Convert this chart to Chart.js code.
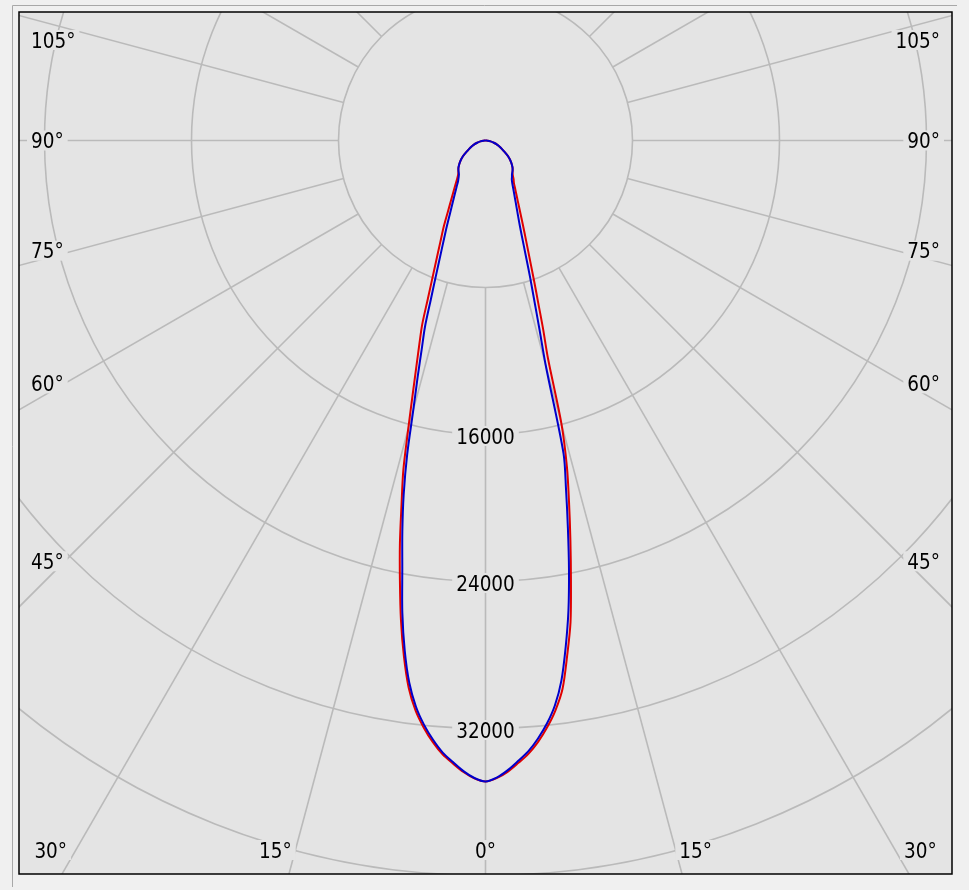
<!DOCTYPE html>
<html>
<head>
<meta charset="utf-8">
<script src="https://cdn.jsdelivr.net/npm/chart.js@4.4.1/dist/chart.umd.min.js"></script>
<style>
  html, body { margin: 0; padding: 0; background: #f0f0f0; }
  canvas { display: block; }
</style>
</head>
<body>
<canvas id="polarChart" width="969" height="890"></canvas>
<script>
// gamma angles (deg from nadir)
const angles = [0, 1, 2, 3, 4, 5, 6, 7, 8, 9, 10, 11, 12, 13, 14, 15, 16, 17, 18, 19, 20, 22, 24, 26, 28, 30, 32, 34, 36, 38, 40, 42, 45, 50, 55, 60, 65, 70, 75, 80, 85, 90];

// intensities (cd), left and right half of each plane
const redLeft = [34885, 34720, 34390, 33950, 33490, 32870, 32130, 31250, 30060, 28400, 26500, 24410, 22400, 20310, 18480, 16240, 14380, 12870, 11645, 10570, 9180, 7290, 6040, 5150, 4330, 3740, 3300, 2950, 2660, 2440, 2300, 2210, 2080, 1810, 1500, 1150, 900, 690, 470, 280, 120, 0];
const redRight = [34885, 34710, 34380, 33930, 33460, 32850, 32110, 31240, 30130, 28400, 26640, 24370, 22220, 20210, 18320, 15990, 12330, 10710, 9275, 8175, 7260, 5920, 4985, 4280, 3750, 3345, 3020, 2760, 2600, 2420, 2290, 2210, 2080, 1810, 1500, 1150, 900, 690, 470, 280, 120, 0];
const blueLeft = [34885, 34700, 34340, 33870, 33390, 32740, 31980, 31050, 29800, 28100, 26070, 23730, 21770, 19800, 17630, 15180, 13400, 11870, 10655, 9120, 7970, 6330, 5245, 4400, 3780, 3320, 2960, 2670, 2490, 2350, 2270, 2200, 2080, 1810, 1500, 1150, 900, 690, 470, 280, 120, 0];
const blueRight = [34885, 34680, 34300, 33820, 33330, 32680, 31920, 30980, 29680, 27900, 25990, 23810, 21570, 19480, 17550, 12660, 10600, 9050, 7890, 6890, 6090, 4975, 4270, 3750, 3340, 3020, 2750, 2560, 2450, 2340, 2270, 2200, 2080, 1810, 1500, 1150, 900, 690, 470, 280, 120, 0];

// grid
const ringValues = [8000, 16000, 24000, 32000, 40000];
const ringLabelValues = [16000, 24000, 32000];
const angleTicks = [0, 15, 30, 45, 60, 75, 90, 105];

const PLOT_BG = '#e4e4e4';
const GRID = '#bababa';
const FONT = '20.5px "DejaVu Sans Condensed", "Liberation Sans", sans-serif';
const PX_PER_CD = 147 / 8000;
const AREA = { left: 19, right: 952, top: 12, bottom: 874 };
const CENTER = { x: 485.5, y: 140.5 };

// polar -> x/y in cd
function polar(deg, val, side) {
    const r = deg * Math.PI / 180;
    return { x: side * val * Math.sin(r), y: -val * Math.cos(r) };
}

function toPoints(left, right) {
    const pts = [];
    for (let i = angles.length - 1; i >= 0; i--) pts.push(polar(angles[i], left[i], -1));
    for (let i = 1; i < angles.length; i++) pts.push(polar(angles[i], right[i], 1));
    return pts;
}

// label with background box, (px, py) = centre
function drawLabel(ctx, text, px, py) {
    const w = ctx.measureText(text).width;
    ctx.fillStyle = PLOT_BG;
    ctx.fillRect(px - w / 2 - 4, py - 10, w + 8, 20);
    ctx.fillStyle = '#000';
    ctx.fillText(text, px, py + 7.5);
}

// grid, labels and frame
const polarGrid = {
    id: 'polarGrid',
    beforeDatasetsDraw(chart) {
        const { ctx, chartArea: a, scales: { x, y } } = chart;
        const cx = x.getPixelForValue(0), cy = y.getPixelForValue(0);
        const rad = v => x.getPixelForValue(v) - cx;

        ctx.save();
        // group box lines
        ctx.strokeStyle = '#a8a8a8';
        ctx.lineWidth = 1;
        ctx.beginPath();
        ctx.moveTo(12.5, 887);
        ctx.lineTo(12.5, 5.5);
        ctx.lineTo(957, 5.5);
        ctx.stroke();

        ctx.fillStyle = PLOT_BG;
        ctx.fillRect(a.left, a.top, a.right - a.left, a.bottom - a.top);
        ctx.beginPath();
        ctx.rect(a.left, a.top, a.right - a.left, a.bottom - a.top);
        ctx.clip();

        ctx.strokeStyle = GRID;
        ctx.lineWidth = 1.6;
        ringValues.forEach(v => {
            ctx.beginPath();
            ctx.arc(cx, cy, rad(v), 0, Math.PI * 2);
            ctx.stroke();
        });
        const rIn = rad(ringValues[0]), rOut = rad(60000);
        for (let d = 0; d < 360; d += 15) {
            const r = d * Math.PI / 180;
            ctx.beginPath();
            ctx.moveTo(cx + rIn * Math.sin(r), cy + rIn * Math.cos(r));
            ctx.lineTo(cx + rOut * Math.sin(r), cy + rOut * Math.cos(r));
            ctx.stroke();
        }

        ctx.font = FONT;
        ctx.textAlign = 'center';
        ctx.textBaseline = 'alphabetic';
        ringLabelValues.forEach(v => drawLabel(ctx, String(v), cx, cy + rad(v) + 1.5));

        // angle labels near the frame, along the spoke
        angleTicks.forEach(t => {
            const text = t + '°';
            const w = ctx.measureText(text).width;
            const sides = t === 0 ? [1] : [-1, 1];
            sides.forEach(side => {
                const phi = (t > 0 && t < 90 ? t + 1.5 : t) * Math.PI / 180;
                const dx = Math.sin(phi), dy = Math.cos(phi);
                const hBound = side < 0 ? cx - (a.left + 12) - w / 2 : (a.right - 12) - w / 2 - cx;
                let k = dx > 0 ? hBound / dx : Infinity;
                let onSide = true;
                if (dy > 0) {
                    const kb = (a.bottom - 24 - cy) / dy;
                    if (kb < k) { k = kb; onSide = false; }
                }
                const px = cx + side * k * dx;
                let py = cy + k * dy;
                if (onSide && t > 0 && t < 90) py += 5;
                py = Math.max(py, a.top + 28);
                drawLabel(ctx, text, px, py);
            });
        });
        ctx.restore();
    },
    afterDraw(chart) {
        const { ctx, chartArea: a } = chart;
        ctx.save();
        ctx.strokeStyle = '#000';
        ctx.lineWidth = 1.5;
        ctx.strokeRect(a.left, a.top, a.right - a.left, a.bottom - a.top);
        ctx.restore();
    }
};

new Chart(document.getElementById('polarChart'), {
    type: 'scatter',
    data: {
        datasets: [
            { label: 'C90-C270', data: toPoints(blueLeft, blueRight), borderColor: '#0000cc', borderWidth: 2, showLine: true, pointRadius: 0, tension: 0.3 },
            { label: 'C0-C180', data: toPoints(redLeft, redRight), borderColor: '#e00000', borderWidth: 2, showLine: true, pointRadius: 0, tension: 0.3 }
        ]
    },
    options: {
        responsive: false,
        animation: false,
        devicePixelRatio: 1,
        layout: { padding: { left: AREA.left, top: AREA.top, right: 969 - AREA.right, bottom: 890 - AREA.bottom } },
        plugins: { legend: { display: false }, tooltip: { enabled: false } },
        scales: {
            x: { type: 'linear', display: false, min: -(CENTER.x - AREA.left) / PX_PER_CD, max: (AREA.right - CENTER.x) / PX_PER_CD },
            y: { type: 'linear', display: false, min: -(AREA.bottom - CENTER.y) / PX_PER_CD, max: (CENTER.y - AREA.top) / PX_PER_CD }
        }
    },
    plugins: [polarGrid]
});
</script>
</body>
</html>
